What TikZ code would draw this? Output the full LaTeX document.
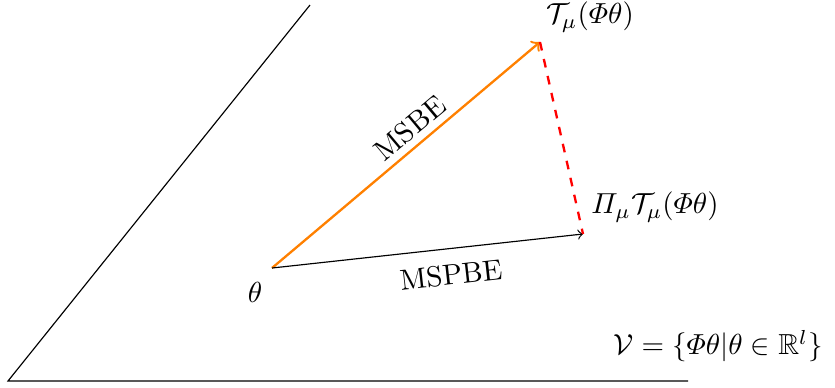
\documentclass[tikz,border=0pt]{standalone}
\usepackage{amsmath,amssymb}
\begin{document}
\begin{tikzpicture}[x=0.345pt,y=-0.345pt,
  lbl/.style={inner sep=0pt},
  plane/.style={draw=black,line width=0.4pt},
  msbe/.style={draw=orange,->,line width=0.8pt},
  mspbe/.style={draw=black,->,line width=0.4pt},
  proj/.style={draw=red,dashed,line width=0.8pt}]
\useasboundingbox (0,0) rectangle (835,387);
\coordinate (O) at (8,381);
\coordinate (E) at (688,381);
\coordinate (T) at (310,5);
\coordinate (th) at (272,268);
\coordinate (tm) at (540,42);
\coordinate (pt) at (583,234);
\draw[plane] (T) -- (O) -- (E);
\draw[msbe] (th) -- (tm);
\draw[mspbe] (th) -- (pt);
\draw[proj] (tm) -- (pt);
\node[lbl] (lth) at (255,292) {$\theta$};
\node[lbl] (ltm) at (590,17) {$\mathcal{T}_\mu(\varPhi\theta)$};
\node[lbl] (lpt) at (655,207) {$\varPi_\mu\mathcal{T}_\mu(\varPhi\theta)$};
\node[lbl,rotate=40] (lmsbe) at (410,128) {MSBE};
\node[lbl,rotate=6.4] (lmspbe) at (451,275) {MSPBE};
\node[lbl] (lV) at (718,346) {$\mathcal{V}=\{\varPhi\theta|\theta\in\mathbb{R}^l\}$};
\end{tikzpicture}
\end{document}
